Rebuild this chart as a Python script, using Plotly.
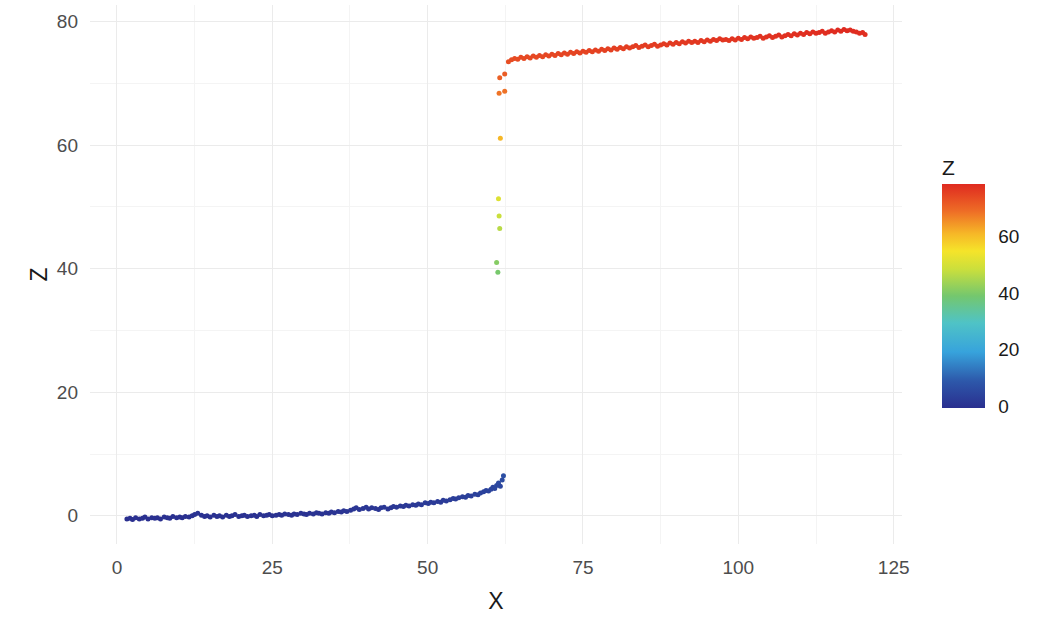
import plotly.graph_objects as go

# ---- data ----
x_low = [1.6, 2.1, 2.5, 3.0, 3.6, 4.1, 4.5, 5.0, 5.6, 6.1,
         6.5, 7.0, 7.6, 8.1, 8.5, 9.0, 9.6, 10.1, 10.5, 11.0,
         11.6, 12.1, 12.5, 13.0, 13.6, 14.1, 14.5, 15.0, 15.6, 16.1,
         16.5, 17.0, 17.6, 18.1, 18.5, 19.0, 19.6, 20.1, 20.5, 21.0,
         21.6, 22.1, 22.5, 23.0, 23.6, 24.1, 24.5, 25.0, 25.6, 26.1,
         26.5, 27.0, 27.6, 28.1, 28.5, 29.0, 29.6, 30.1, 30.5, 31.0,
         31.6, 32.1, 32.5, 33.0, 33.6, 34.1, 34.5, 35.0, 35.6, 36.1,
         36.5, 37.0, 37.6, 38.1, 38.5, 39.0, 39.6, 40.1, 40.5, 41.0,
         41.6, 42.1, 42.5, 43.0, 43.6, 44.1, 44.5, 45.0, 45.6, 46.1,
         46.5, 47.0, 47.6, 48.1, 48.5, 49.0, 49.6, 50.1, 50.5, 51.0,
         51.6, 52.1, 52.5, 53.0, 53.6, 54.1, 54.5, 55.0, 55.6, 56.1,
         56.5, 57.0, 57.6, 58.1, 58.5, 59.0, 59.4, 59.8, 60.2, 60.5,
         60.8, 61.1, 61.4, 61.7, 62.0, 62.2]
z_low = [-0.5, -0.4, -0.6, -0.3, -0.5, -0.4, -0.2, -0.5, -0.3, -0.4,
         -0.3, -0.5, -0.2, -0.3, -0.4, -0.1, -0.3, -0.2, -0.3, -0.1,
         -0.2, 0.0, 0.2, 0.4, 0.1, -0.1, 0.0, -0.2, 0.1, -0.1,
         0.0, -0.2, 0.1, -0.1, 0.0, 0.2, -0.1, 0.0, 0.1, -0.1,
         0.0, 0.1, -0.1, 0.2, 0.0, 0.1, 0.2, 0.0, 0.1, 0.2,
         0.1, 0.3, 0.2, 0.1, 0.3, 0.2, 0.4, 0.3, 0.2, 0.4,
         0.3, 0.5, 0.4, 0.3, 0.5, 0.4, 0.6, 0.5, 0.7, 0.6,
         0.8, 0.7, 0.9, 1.1, 1.3, 1.0, 1.2, 1.4, 1.1, 1.3,
         1.2, 1.0, 1.3, 1.4, 1.1, 1.3, 1.5, 1.4, 1.6, 1.5,
         1.7, 1.6, 1.8, 1.7, 1.9, 1.8, 2.1, 2.0, 2.2, 2.1,
         2.3, 2.2, 2.5, 2.4, 2.6, 2.8, 2.7, 2.9, 3.1, 3.0,
         3.3, 3.2, 3.5, 3.4, 3.7, 3.9, 4.1, 4.0, 4.3, 4.6,
         4.4, 4.9, 5.3, 4.8, 5.8, 6.5]

x_mid = [61.3, 61.1, 61.6, 61.5, 61.4, 61.7, 61.5, 62.4, 61.6, 62.4]
z_mid = [39.4, 41.0, 46.5, 48.5, 51.3, 61.1, 68.4, 68.7, 70.9, 71.5]

x_high = [63.0, 63.5, 64.0, 64.5, 65.0, 65.5, 66.0, 66.5, 67.0, 67.5,
          68.0, 68.5, 69.0, 69.5, 70.0, 70.5, 71.0, 71.5, 72.0, 72.5,
          73.0, 73.5, 74.0, 74.5, 75.0, 75.5, 76.0, 76.5, 77.0, 77.5,
          78.0, 78.5, 79.0, 79.5, 80.0, 80.5, 81.0, 81.5, 82.0, 82.5,
          83.0, 83.5, 84.0, 84.5, 85.0, 85.5, 86.0, 86.5, 87.0, 87.5,
          88.0, 88.5, 89.0, 89.5, 90.0, 90.5, 91.0, 91.5, 92.0, 92.5,
          93.0, 93.5, 94.0, 94.5, 95.0, 95.5, 96.0, 96.5, 97.0, 97.5,
          98.0, 98.5, 99.0, 99.5, 100.0, 100.5, 101.0, 101.5, 102.0, 102.5,
          103.0, 103.5, 104.0, 104.5, 105.0, 105.5, 106.0, 106.5, 107.0, 107.5,
          108.0, 108.5, 109.0, 109.5, 110.0, 110.5, 111.0, 111.5, 112.0, 112.5,
          113.0, 113.5, 114.0, 114.5, 115.0, 115.5, 116.0, 116.5, 117.0, 117.5,
          118.0, 118.5, 119.0, 119.5, 120.0, 120.4]
z_high = [73.5, 73.8, 74.0, 73.9, 74.2, 74.0, 74.3, 74.1, 74.4, 74.2,
          74.5, 74.3, 74.6, 74.4, 74.7, 74.5, 74.8, 74.6, 74.9, 74.7,
          75.0, 74.8, 75.1, 74.9, 75.2, 75.0, 75.3, 75.1, 75.4, 75.2,
          75.5, 75.3, 75.6, 75.4, 75.7, 75.5, 75.8, 75.6, 75.9, 75.7,
          75.9, 76.1, 75.8, 76.0, 76.2, 75.9, 76.1, 76.3, 76.0, 76.2,
          76.4, 76.2, 76.5, 76.3, 76.6, 76.4, 76.7, 76.5, 76.8, 76.6,
          76.8, 76.6, 76.9, 76.7, 77.0, 76.8, 77.1, 76.9, 77.2, 77.0,
          77.1, 76.9, 77.2, 77.0, 77.3, 77.1, 77.4, 77.2, 77.5, 77.3,
          77.4, 77.6, 77.3, 77.5, 77.7, 77.4, 77.6, 77.8, 77.5, 77.7,
          77.9, 77.7, 78.0, 77.8, 78.1, 77.9, 78.2, 78.0, 78.3, 78.1,
          78.2, 78.4, 78.1, 78.3, 78.5, 78.3, 78.6, 78.4, 78.7, 78.5,
          78.6, 78.4, 78.3, 78.1, 78.2, 77.9]

x_ticks = [0, 25, 50, 75, 100, 125]
y_ticks = [0, 20, 40, 60, 80]
cbar_ticks = [0, 20, 40, 60]

X = x_low + x_mid + x_high
Z = z_low + z_mid + z_high

colorscale = [
    [0.0, '#2a2f8f'], [0.12, '#2d58aa'], [0.25, '#37a3dc'],
    [0.38, '#4fc3c6'], [0.5, '#74c76e'], [0.62, '#cbdf3c'],
    [0.7, '#f5e42a'], [0.78, '#f6b627'], [0.88, '#ee6c26'],
    [1.0, '#df2a20'],
]

zmin, zmax = min(Z), max(Z)
xr = max(X) - min(X)
yr = zmax - zmin
x_range = [min(X) - 0.05 * xr, max(X) + 0.05 * xr]
y_range = [zmin - 0.05 * yr, zmax + 0.05 * yr]

L, R, T, B = 90, 135, 5, 76
W, H = 1037, 620
plot_h = H - T - B
plot_w = W - L - R

fig = go.Figure(go.Scatter(
    x=X, y=Z, mode='markers',
    marker=dict(
        size=5, color=Z, colorscale=colorscale, cmin=zmin, cmax=zmax,
        line=dict(width=0),
        colorbar=dict(
            title=dict(text='Z', side='top',
                       font=dict(size=21, color='#1a1a1a', family='Liberation Sans')),
            tickvals=cbar_ticks, ticktext=[str(t) for t in cbar_ticks],
            ticks='outside', ticklen=10, tickcolor='white', tickwidth=1,
            tickfont=dict(size=19, color='#1a1a1a', family='Liberation Sans'),
            thickness=43, thicknessmode='pixels',
            len=252, lenmode='pixels',
            x=(942 - L) / plot_w, xanchor='left',
            y=(H - B - 282) / plot_h, yanchor='middle',
            outlinewidth=0, xpad=0, ypad=0,
        ),
    ),
    showlegend=False,
))

grid_major = '#ebebeb'
grid_minor = '#f4f4f4'
fig.update_layout(
    width=W, height=H,
    margin=dict(l=L, r=R, t=T, b=B, autoexpand=False),
    plot_bgcolor='white', paper_bgcolor='white',
    font=dict(family='Liberation Sans', color='#4d4d4d'),
    xaxis=dict(
        range=x_range, tickvals=x_ticks, ticktext=[str(t) for t in x_ticks],
        showgrid=True, gridcolor=grid_major, gridwidth=1,
        minor=dict(tickvals=[12.5, 37.5, 62.5, 87.5, 112.5], showgrid=True,
                   gridcolor=grid_minor, gridwidth=1),
        zeroline=False, showline=False, ticks='', automargin=False,
        ticklabelstandoff=10,
        tickfont=dict(size=19, color='#4d4d4d'),
        title=dict(text='X', font=dict(size=23, color='#1a1a1a')),
    ),
    yaxis=dict(
        range=y_range, tickvals=y_ticks, ticktext=[str(t) for t in y_ticks],
        showgrid=True, gridcolor=grid_major, gridwidth=1,
        minor=dict(tickvals=[10, 30, 50, 70], showgrid=True,
                   gridcolor=grid_minor, gridwidth=1),
        zeroline=False, showline=False, ticks='', automargin=False,
        ticklabelstandoff=11,
        tickfont=dict(size=19, color='#4d4d4d'),
        title=dict(text='Z', font=dict(size=23, color='#1a1a1a'), standoff=2),
    ),
)

fig.write_html('out.html',
               config={'displayModeBar': False},
               post_script="document.body.style.margin='0';")
